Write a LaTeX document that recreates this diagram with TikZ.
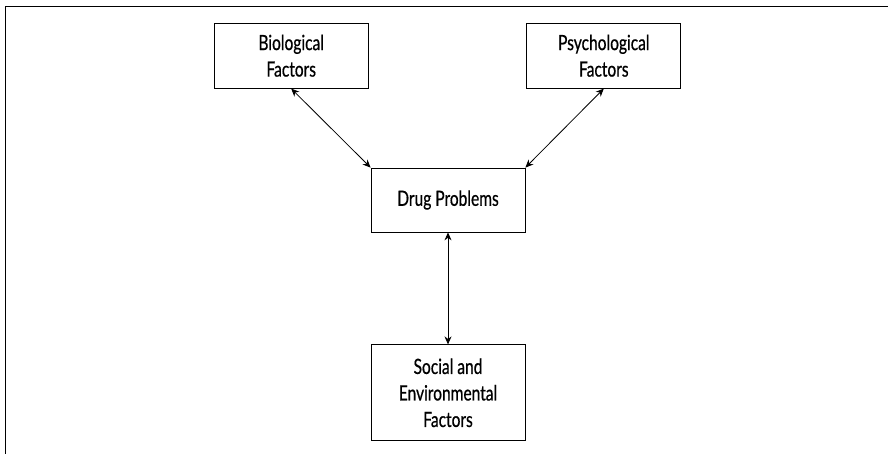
\documentclass[tikz,border=0pt]{standalone}
\usepackage{fontspec}
\setmainfont{Lato}[FakeStretch=0.74, FakeBold=0.6]
\usepackage{tikz}
\usetikzlibrary{arrows.meta, positioning}

\begin{document}
\begin{tikzpicture}[
  x=1pt, y=1pt,
  box/.style={rectangle, draw, line width=0.8pt, minimum width=154pt,
              minimum height=64pt, align=center, inner sep=0pt,
              font=\fontsize{21}{26.5}\selectfont},
  arr/.style={{Stealth[length=8pt,width=7pt]}-{Stealth[length=8pt,width=7pt]}, line width=0.8pt}
]
\useasboundingbox (0,0) rectangle (888,454);
\draw[line width=0.8pt] (5.5,0) |- (888,447.5);
\node[box] (drug) at (448,254) {Drug Problems};
\node[box, minimum height=65pt, above left=79pt and 2pt of drug] (bio) {Biological\\Factors};
\node[box, minimum height=65pt, above right=79pt and 1pt of drug] (psych) {Psychological\\Factors};
\node[box, minimum height=96pt, below=112pt of drug] (social) {Social and\\Environmental\\Factors};
\draw[arr] (bio.south) -- (drug.north west);
\draw[arr] (psych.south) -- (drug.north east);
\draw[arr] (drug) -- (social);
\end{tikzpicture}
\end{document}
